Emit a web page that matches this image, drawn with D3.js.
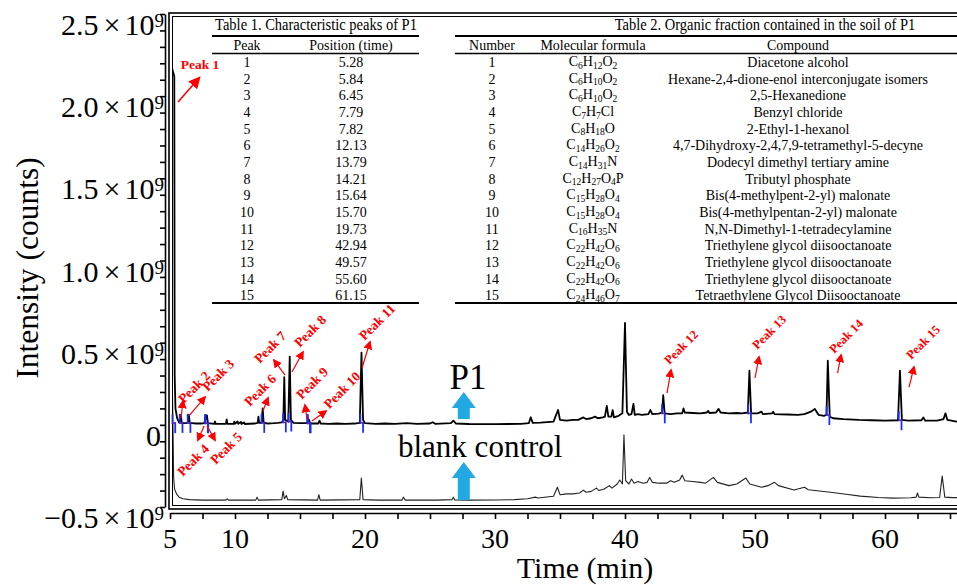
<!DOCTYPE html>
<html><head><meta charset="utf-8">
<script src="https://cdn.jsdelivr.net/npm/d3@7"></script>
<style>
body{margin:0;background:#fff}
svg{display:block}
text{font-family:"Liberation Serif","Times New Roman",serif;fill:#000}
</style>
</head><body><svg id="chart" width="957" height="585"></svg>
<script>
// ---------------- DATA ----------------
// P1 chromatogram (time in min, intensity in 1e9 counts)
const p1Time = [5.0,5.1,5.13,5.16,5.33,5.36,5.42,5.55,5.7,5.78,5.84,5.9,6.1,6.38,6.45,6.52,7.0,7.4,7.65,7.74,7.79,7.84,7.92,8.4,8.46,8.52,9.3,9.36,9.42,9.9,9.95,10.0,10.2,10.25,10.45,10.5,10.7,10.75,11.5,11.75,11.8,11.86,12.05,12.13,12.2,12.5,13.0,13.3,13.6,13.72,13.79,13.86,14.1,14.21,14.3,14.5,15.0,15.55,15.64,15.7,15.78,16.4,16.5,16.6,17.2,17.8,18.5,19.2,19.6,19.73,19.85,20.0,20.8,21.5,22.3,23.2,24.0,25.0,25.2,25.4,26.6,26.8,27.0,28.0,29.0,30.0,31.0,32.0,32.6,32.75,32.9,33.5,34.5,34.85,35.0,35.5,36.0,36.4,36.8,37.0,37.4,37.7,37.9,38.3,38.45,38.6,38.72,38.95,39.05,39.15,39.5,39.8,40.0,40.15,40.3,40.5,40.65,40.75,41.0,41.3,41.8,41.95,42.1,42.6,42.85,42.94,43.05,43.5,44.0,44.4,44.5,44.6,45.2,45.8,46.3,46.4,46.5,47.0,47.2,47.35,48.0,48.6,49.0,49.45,49.57,49.7,50.2,50.5,50.6,51.3,51.4,51.5,52.5,53.3,53.8,54.3,54.6,54.9,55.3,55.5,55.6,55.75,56.0,56.8,58.0,59.0,60.0,61.0,61.15,61.3,61.8,62.8,62.95,63.1,64.0,64.5,64.65,64.8,65.5,66.5];
const p1Int  = [0.005,0.01,1.6,2.17,2.12,0.3,0.1,0.04,0.015,0.012,0.06,0.012,0.01,0.012,0.06,0.012,0.008,0.008,0.01,0.06,0.035,0.058,0.01,0.006,0.02,0.006,0.006,0.033,0.006,0.006,0.02,0.006,0.02,0.006,0.018,0.005,0.015,0.005,0.008,0.012,0.05,0.012,0.012,0.1,0.015,0.008,0.01,0.012,0.015,0.03,0.29,0.03,0.02,0.415,0.03,0.012,0.01,0.01,0.035,0.03,0.008,0.008,0.025,0.008,0.006,0.008,0.006,0.008,0.012,0.44,0.03,0.01,0.006,0.008,0.006,0.01,0.006,0.008,0.016,0.006,0.01,0.025,0.008,0.005,0.004,0.004,0.005,0.006,0.01,0.046,0.012,0.014,0.02,0.09,0.03,0.025,0.03,0.03,0.045,0.035,0.04,0.05,0.04,0.045,0.05,0.115,0.05,0.05,0.09,0.045,0.055,0.07,0.62,0.08,0.06,0.065,0.127,0.06,0.065,0.06,0.065,0.09,0.065,0.068,0.075,0.18,0.07,0.065,0.07,0.07,0.1,0.075,0.072,0.07,0.075,0.085,0.072,0.075,0.097,0.075,0.07,0.072,0.07,0.075,0.33,0.07,0.07,0.08,0.065,0.07,0.08,0.065,0.063,0.06,0.065,0.08,0.097,0.06,0.055,0.06,0.39,0.05,0.04,0.035,0.03,0.028,0.026,0.028,0.33,0.03,0.025,0.028,0.045,0.025,0.026,0.035,0.07,0.03,0.02,0.02];

// blank control chromatogram (own zero), drawn shifted by blankOffset
const blankOffset = -0.47;
const blankTime = [5.0,5.08,5.15,5.22,5.28,5.35,5.5,5.7,6.0,6.5,7.5,9.3,9.4,9.5,11.6,11.7,11.8,13.6,13.7,13.8,13.95,14.05,16.35,16.45,16.55,19.6,19.72,19.85,21.0,22.85,22.95,23.1,25.5,26.7,26.8,26.9,28.0,30.0,31.5,32.5,33.1,33.3,34.5,34.8,35.0,35.5,36.0,36.5,36.8,37.0,37.4,37.8,38.0,38.4,38.8,39.0,39.4,39.6,39.8,39.92,40.05,40.3,40.5,40.7,41.0,41.4,41.7,41.9,42.1,42.6,43.2,43.5,43.8,44.2,44.4,44.6,45.2,45.8,46.2,46.8,47.1,48.0,48.6,49.3,49.6,50.5,51.0,51.5,51.8,53.0,53.8,54.1,55.8,57.0,58.1,59.5,60.6,62.0,62.4,62.5,62.6,63.5,64.2,64.4,64.6,65.2,66.5];
const blankInt  = [0.02,0.4,0.86,0.5,0.15,0.08,0.05,0.03,0.02,0.015,0.012,0.012,0.02,0.012,0.012,0.03,0.012,0.015,0.067,0.02,0.04,0.015,0.012,0.045,0.012,0.015,0.146,0.015,0.012,0.012,0.03,0.012,0.012,0.015,0.03,0.013,0.012,0.013,0.015,0.02,0.03,0.025,0.035,0.09,0.045,0.05,0.05,0.055,0.073,0.06,0.065,0.085,0.07,0.08,0.1,0.085,0.11,0.134,0.11,0.41,0.13,0.11,0.14,0.115,0.125,0.115,0.12,0.15,0.12,0.115,0.115,0.13,0.12,0.134,0.164,0.13,0.125,0.12,0.115,0.15,0.12,0.1,0.11,0.146,0.11,0.09,0.1,0.12,0.1,0.073,0.09,0.075,0.06,0.048,0.036,0.028,0.024,0.026,0.03,0.055,0.03,0.026,0.028,0.158,0.03,0.027,0.027];

// characteristic peaks
const peakNumbers = [1,2,3,4,5,6,7,8,9,10,11,12,13,14,15];
const peakTimes = [5.28,5.84,6.45,7.79,7.82,12.13,13.79,14.21,15.64,15.70,19.73,42.94,49.57,55.60,61.15];
const peakBase  = [0.01,0.012,0.012,0.01,0.01,0.012,0.015,0.02,0.01,0.01,0.012,0.07,0.07,0.06,0.028];
const formulas = ["C6H12O2","C6H10O2","C6H10O2","C7H7Cl","C8H18O","C14H26O2","C14H31N","C12H27O4P","C15H28O4","C15H28O4","C16H35N","C22H42O6","C22H42O6","C22H42O6","C24H46O7"];
const compounds = ["Diacetone alcohol","Hexane-2,4-dione-enol interconjugate isomers","2,5-Hexanedione","Benzyl chloride","2-Ethyl-1-hexanol","4,7-Dihydroxy-2,4,7,9-tetramethyl-5-decyne","Dodecyl dimethyl tertiary amine","Tributyl phosphate","Bis(4-methylpent-2-yl) malonate","Bis(4-methylpentan-2-yl) malonate","N,N-Dimethyl-1-tetradecylamine","Triethylene glycol diisooctanoate","Triethylene glycol diisooctanoate","Triethylene glycol diisooctanoate","Tetraethylene Glycol Diisooctanoate"];

// peak annotation placement in data space: label centre, arrow tail, arrow head (time, intensity)
const labelT = [7.31,6.85,8.69,6.77,9.31,11.92,12.69,15.77,15.92,18.23,20.92,44.31,51.08,57.0,62.92];
const labelV = [2.196,0.23,0.303,-0.214,-0.141,0.212,0.473,0.571,0.254,0.212,0.626,0.473,0.565,0.540,0.504];
const tailT = [5.62,5.85,6.46,7.62,7.85,12.15,13.85,14.38,15.54,15.92,19.77,43.23,50.0,56.35,61.85];
const tailV = [1.964,0.041,0.054,-0.007,-0.007,0.084,0.303,0.321,0.035,0.023,0.346,0.193,0.285,0.315,0.23];
const headT = [7.23,6.0,7.69,7.15,8.46,12.54,13.0,15.23,15.38,17.0,20.38,43.54,50.31,56.62,62.23];
const headV = [2.11,0.145,0.169,-0.093,-0.093,0.163,0.394,0.443,0.12,0.084,0.504,0.333,0.413,0.425,0.352];

// axes
const yTickValues = [-0.5,0,0.5,1.0,1.5,2.0,2.5];
const yTickLabels = ["\u22120.5","0","0.5","1.0","1.5","2.0","2.5"];
const xTickValues = [5,10,20,30,40,50,60];
const xTickLabels = ["5","10","20","30","40","50","60"];

// in-plot labels (time, intensity)
const sampleLabels = ["P1","blank control"];
const sampleArrowT = [27.6,27.6];
const sampleArrowTip = [0.2,-0.226];
const sampleArrowBottom = [0.035,-0.458];

// ---------------- DRAW ----------------
const svg = d3.select("#chart");
const x = d3.scaleLinear().domain([5,66.5]).range([170,969.5]);
const y = d3.scaleLinear().domain([-0.5,2.5]).range([507,14]);
const RED = "#ff0000", BLUE = "#1a2fff", SKY = "#22a8e2";
const VS = 1.1; // vertical stretch of the table glyphs

// frame (double line)
const frame = svg.append("g").attr("fill","none").attr("stroke","#000");
frame.append("rect").attr("x",169).attr("y",13).attr("width",820).attr("height",496).attr("stroke-width",1.6);
frame.append("rect").attr("x",172.5).attr("y",16.5).attr("width",820).attr("height",489).attr("stroke-width",1);

// y axis
const yMinor = d3.range(-0.5,2.5001,0.1);
const yAxis = svg.append("g").attr("transform","translate(165,0)")
  .call(d3.axisLeft(y).tickValues(yMinor).tickSize(5).tickSizeOuter(0).tickFormat(""));
yAxis.select(".domain").attr("stroke-width",1.6);
yAxis.selectAll(".tick line").attr("stroke-width",1.6);

const yl = svg.append("g");
yTickValues.forEach((v,i)=>{
  const t = yl.append("text").attr("text-anchor","end").attr("font-size",30)
    .attr("x", v===0 ? 161 : 164).attr("y", y(v)+21);
  if (v===0) { t.text(yTickLabels[i]); return; }
  t.append("tspan").text(yTickLabels[i]);
  t.append("tspan").attr("dx",5).text("\u00d7");
  t.append("tspan").attr("dx",4).text("10");
  t.append("tspan").attr("font-size",19).attr("dy",-8).text("9");
});

// x axis
const xMinor = d3.range(5,65.001,2.5);
const xAxis = svg.append("g").attr("transform","translate(0,513)")
  .call(d3.axisBottom(x).tickValues(xMinor).tickSize(6).tickSizeOuter(0).tickFormat(""));
xAxis.select(".domain").attr("stroke-width",1.6);
xAxis.selectAll(".tick line").attr("stroke-width",1.6);
xTickValues.forEach((v,i)=>{
  svg.append("text").attr("x",x(v)).attr("y",548).attr("text-anchor","middle")
    .attr("font-size",28).text(xTickLabels[i]);
});

// axis titles
svg.append("text").attr("x",585).attr("y",578).attr("text-anchor","middle").attr("font-size",30).text("Time (min)");
svg.append("text").attr("transform","translate(38,268) rotate(-90)").attr("text-anchor","middle").attr("font-size",31.5).text("Intensity (counts)");

// traces
svg.append("defs").append("clipPath").attr("id","plot").append("rect")
  .attr("x",173).attr("y",17).attr("width",790).attr("height",488);
const line = d3.line().x(d=>x(d[0])).y(d=>y(d[1]));
const blankData = blankTime.map((t,i)=>[t, blankInt[i] + blankOffset]);
const p1Data = p1Time.map((t,i)=>[t, p1Int[i]]);
const traces = svg.append("g").attr("clip-path","url(#plot)");
traces.append("path").datum(blankData).attr("d",line).attr("fill","none").attr("stroke","#222").attr("stroke-width",1.1).attr("stroke-linejoin","round");
traces.append("path").datum(p1Data).attr("d",line).attr("fill","none").attr("stroke","#000").attr("stroke-width",1.8).attr("stroke-linejoin","round");

// integration markers
const mk = svg.append("g");
peakTimes.forEach((t,i)=>{
  const yb = y(peakBase[i]);
  const xs = x(t-0.09), xe = x(t+0.12);
  mk.append("line").attr("x1",xs).attr("x2",xe).attr("y1",yb).attr("y2",yb).attr("stroke",RED).attr("stroke-width",1.5);
  mk.append("line").attr("x1",xs).attr("x2",xs).attr("y1",yb-9).attr("y2",yb+1).attr("stroke",BLUE).attr("stroke-width",1.8);
  mk.append("line").attr("x1",xe).attr("x2",xe).attr("y1",yb-1).attr("y2",yb+10).attr("stroke",BLUE).attr("stroke-width",1.8);
});

// arrow markers
const defs = svg.select("defs");
defs.append("marker").attr("id","ah").attr("viewBox","0 0 10 10").attr("refX",8).attr("refY",5)
  .attr("markerWidth",9).attr("markerHeight",9).attr("markerUnits","userSpaceOnUse").attr("orient","auto")
  .append("path").attr("d","M0,0L10,5L0,10Z").attr("fill",RED);
defs.append("marker").attr("id","ah1").attr("viewBox","0 0 10 10").attr("refX",8).attr("refY",5)
  .attr("markerWidth",12).attr("markerHeight",12).attr("markerUnits","userSpaceOnUse").attr("orient","auto")
  .append("path").attr("d","M0,0L10,5L0,10Z").attr("fill",RED);

const ann = svg.append("g");
peakNumbers.forEach((n,i)=>{
  ann.append("line").attr("x1",x(tailT[i])).attr("y1",y(tailV[i]))
    .attr("x2",x(headT[i])).attr("y2",y(headV[i]))
    .attr("stroke",RED).attr("stroke-width",i===0?1.6:1.2)
    .attr("marker-end", i===0 ? "url(#ah1)" : "url(#ah)");
  const lx = x(labelT[i]), ly = y(labelV[i]);
  ann.append("text").attr("transform", i===0 ? `translate(${lx},${ly})` : `translate(${lx},${ly}) rotate(-45)`)
    .attr("text-anchor","middle").attr("dy","0.35em")
    .attr("font-size", i>=11 ? 12.5 : 13.5).attr("font-weight","bold").style("fill",RED)
    .text("Peak " + n);
});

// sample labels and blue arrows
sampleLabels.forEach((s,i)=>{
  const cx = x(sampleArrowT[i]), tip = y(sampleArrowTip[i]), bot = y(sampleArrowBottom[i]);
  const hb = tip + 16;
  svg.append("path").attr("d",`M${cx},${tip}L${cx+12},${hb}L${cx+6},${hb}L${cx+6},${bot}L${cx-6},${bot}L${cx-6},${hb}L${cx-12},${hb}Z`).attr("fill",SKY);
});
svg.append("text").attr("x",468).attr("y",389).attr("text-anchor","middle").attr("font-size",35).text(sampleLabels[0]);
svg.append("text").attr("x",398).attr("y",457).attr("font-size",31).text(sampleLabels[1]);

// ---------------- TABLES ----------------
const rowY = i => 62 + i*16.67;
const tb = svg.append("g").attr("font-size",14);
function tText(xx, yy, str, size, vs){
  return tb.append("text").attr("transform",`translate(${xx},${yy}) scale(1,${vs || VS})`)
    .attr("text-anchor","middle").attr("font-size", size || 14).text(str);
}
// Table 1
tText(316,30,"Table 1. Characteristic peaks of P1",14.5);
tText(247,50,"Peak");
tText(351,50,"Position (time)");
[[36,2],[53.5,1.6],[303,2]].forEach(([yy,w])=>tb.append("line").attr("x1",212).attr("x2",419).attr("y1",yy).attr("y2",yy).attr("stroke","#000").attr("stroke-width",w));
peakNumbers.forEach((n,i)=>{
  tText(247,rowY(i)+5,n);
  tText(351,rowY(i)+5,peakTimes[i].toFixed(2));
});
// Table 2
tText(765,30,"Table 2. Organic fraction contained in the soil of P1",14.5);
tText(492,50,"Number");
tText(593,50,"Molecular formula");
tText(798,50,"Compound");
[[36,2],[53.5,1.6],[303,2]].forEach(([yy,w])=>tb.append("line").attr("x1",455).attr("x2",957).attr("y1",yy).attr("y2",yy).attr("stroke","#000").attr("stroke-width",w));
peakNumbers.forEach((n,i)=>{
  const yy = rowY(i)+4;
  tText(492,yy+1,n);
  const ft = tText(593,yy,"",14,1);
  const parts = formulas[i].match(/[A-Z][a-z]?\d*/g);
  let shifted = false;
  parts.forEach(p=>{
    const m = p.match(/([A-Z][a-z]?)(\d*)/);
    ft.append("tspan").attr("dy", shifted ? -2.5 : 0).text(m[1]);
    shifted = false;
    if (m[2]) { ft.append("tspan").attr("font-size",9.5).attr("dy",2.5).text(m[2]); shifted = true; }
  });
  tText(798,yy+1,compounds[i]);
});
</script>
</body></html>
